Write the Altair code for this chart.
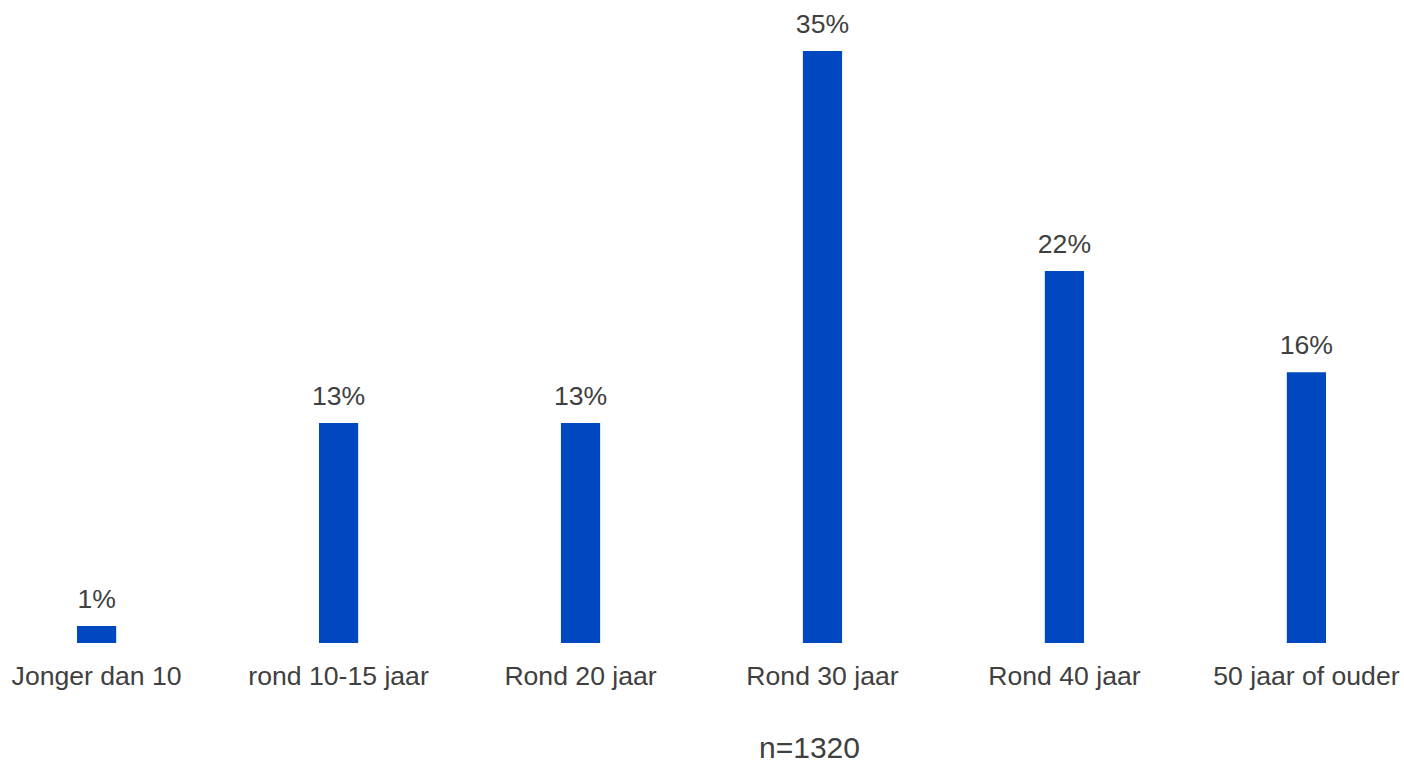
import altair as alt
import pandas as pd

# Share of respondents per age group
categories = ["Jonger dan 10", "rond 10-15 jaar", "Rond 20 jaar",
              "Rond 30 jaar", "Rond 40 jaar", "50 jaar of ouder"]
values = [1, 13, 13, 35, 22, 16]
sample_note = "n=1320"

df = pd.DataFrame({"categorie": categories, "pct": values})
df["label"] = df["pct"].astype(str) + "%"

BAR_COLOR = "#0048BF"
TEXT_COLOR = "#404040"
FONT = "Liberation Sans"

x = alt.X(
    "categorie:N",
    sort=categories,
    scale=alt.Scale(paddingInner=0.838, paddingOuter=0),
    axis=alt.Axis(
        title=sample_note,
        titleFont=FONT,
        titleFontSize=30,
        titleFontWeight="normal",
        titleColor=TEXT_COLOR,
        titleAnchor="start",
        titleAlign="center",
        titleX=732,
        titleY=114,
        titleBaseline="alphabetic",
        labelAngle=0,
        labelFont=FONT,
        labelFontSize=26.6,
        labelColor=TEXT_COLOR,
        labelBaseline="alphabetic",
        labelPadding=41,
        labelOverlap=False,
        labelLimit=0,
        ticks=False,
        tickSize=0,
        domain=False,
        grid=False,
    ),
)
y = alt.Y(
    "pct:Q",
    scale=alt.Scale(domain=[0, 35], nice=False),
    axis=None,
)

bars = alt.Chart(df).mark_bar(color=BAR_COLOR).encode(x=x, y=y)
labels = alt.Chart(df).mark_text(
    font=FONT, fontSize=26.6, color=TEXT_COLOR, baseline="alphabetic", dy=-18
).encode(x=x, y=y, text="label:N")

chart = (
    alt.layer(bars, labels)
    .properties(
        width=1249,
        height=592,
        autosize=alt.AutoSizeParams(type="none"),
        padding={"left": 77, "top": 51, "right": 78, "bottom": 121},
        background="white",
    )
    .configure_view(stroke=None)
)

chart.save("out.html", embed_options={"renderer": "svg", "actions": False})
